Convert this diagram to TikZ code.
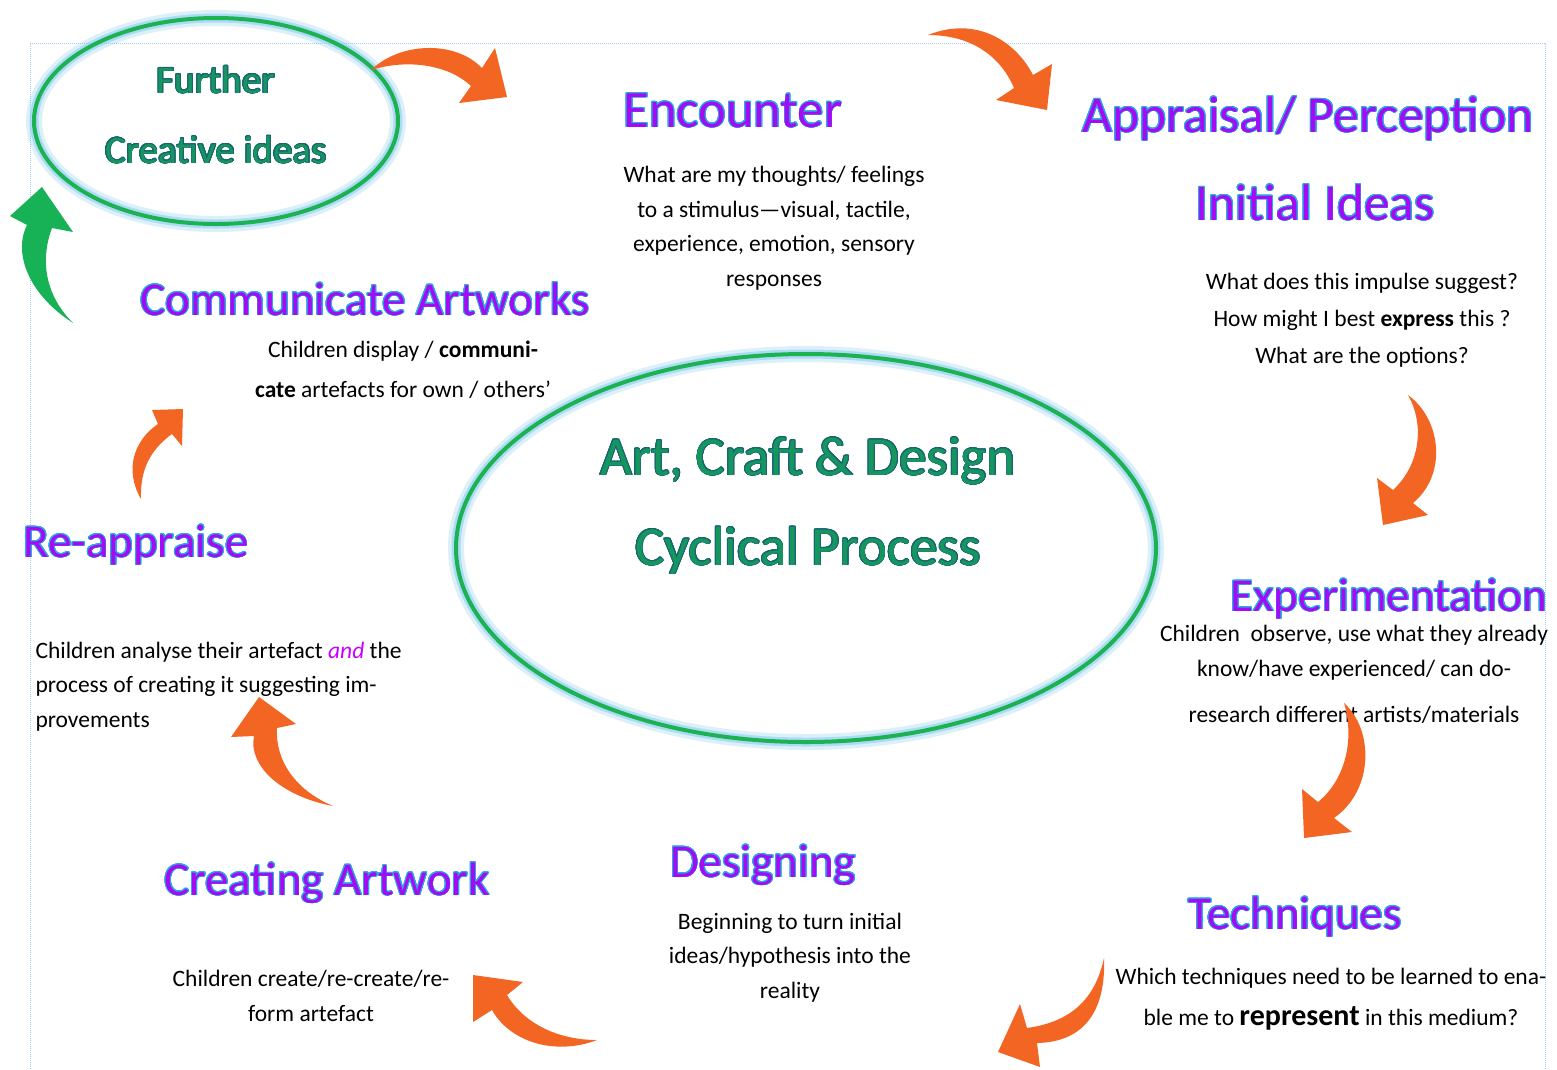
\documentclass[tikz,border=0pt]{standalone}
\usepackage{fontspec}
\setmainfont{Carlito}
\usepackage[copies]{contour}
\usetikzlibrary{shapes.geometric}
\contourlength{0.9pt}
\contournumber{20}
\definecolor{arroworange}{RGB}{243,101,35}
\definecolor{arrowgreen}{RGB}{24,178,86}
\definecolor{ringgreen}{RGB}{28,178,82}
\definecolor{glowblue}{RGB}{140,205,240}
\definecolor{headfill}{RGB}{165,10,245}
\definecolor{headline}{RGB}{40,170,225}
\definecolor{titlefill}{RGB}{22,150,95}
\definecolor{titleline}{RGB}{25,100,115}
\definecolor{frameblue}{RGB}{165,205,245}
\definecolor{andpink}{RGB}{200,0,255}
\newcommand{\headtxt}[1]{\contour{headline}{\textcolor{headfill}{#1}}}
\newcommand{\titletxt}[1]{{\contourlength{0.8pt}\contour{titleline}{\textcolor{titlefill}{#1}}}}
\tikzset{
  ring/.style={ellipse, draw=ringgreen, line width=4pt, inner sep=0pt,
    preaction={draw=glowblue, line width=16pt, opacity=0.3},
    preaction={draw=glowblue, line width=9pt, opacity=0.6}},
  head/.style={font=\fontsize{47}{56}\selectfont, anchor=base},
  bighead/.style={head, font=\fontsize{51.5}{60}\selectfont},
  title/.style={align=center, anchor=base},
  body/.style={font=\fontsize{23.5}{34.5}\selectfont, align=center, anchor=base},
  bent/.style={fill=arroworange, draw=none},
  framebox/.style={draw=frameblue, densely dotted, line width=1pt}
}
\begin{document}
\begin{tikzpicture}[x=1pt,y=-1pt]
  \useasboundingbox (0,0) rectangle (1557,1069);
  \draw[framebox] (30,1069) -- (30,43) -- (1545,43) -- (1545,1069);

  \node[ring, minimum width=364pt, minimum height=206pt] (further) at (216,121) {};
  \node[title, font=\fontsize{39}{70}\selectfont] (furthertxt) at (216,163)
    {\titletxt{Further}\\\titletxt{Creative ideas}};

  \node[ring, minimum width=700pt, minimum height=388pt] (cycle) at (806,548) {};
  \node[title, font=\fontsize{55}{90}\selectfont] (cycletxt) at (808,565)
    {\titletxt{Art, Craft \& Design}\\\titletxt{Cyclical Process}};

  \node[bighead, font=\fontsize{52.5}{60}\selectfont] (encounter) at (733,127) {\headtxt{Encounter}};
  \node[body] (encountertxt) at (774,286) {What are my thoughts/ feelings\\to a stimulus—visual, tactile,\\experience, emotion, sensory\\responses};

  \node[bighead] (appraisal) at (1308,132) {\headtxt{Appraisal/ Perception}};
  \node[bighead] (initial) at (1315,220) {\headtxt{Initial Ideas}};
  \node[body, font=\fontsize{23.5}{37}\selectfont] (appraisaltxt) at (1362,363) {What does this impulse suggest?\\How might I best \textbf{express} this ?\\What are the options?};

  \node[head] (experiment) at (1389,611) {\headtxt{Experimentation}};
  \node[body] (experimenttxt) at (1354,722) {Children~ observe, use what they already\\know/have experienced/ can do-\\[11.5pt]research different artists/materials};

  \node[head] (techniques) at (1295,929) {\headtxt{Techniques}};
  \node[body, font=\fontsize{23.5}{41}\selectfont] (techniquestxt) at (1331,1025) {Which techniques need to be learned to ena-\\ble me to {\fontsize{30}{36}\selectfont\bfseries represent} in this medium?};

  \node[head] (designing) at (763,877) {\headtxt{Designing}};
  \node[body] (designingtxt) at (790,998) {Beginning to turn initial\\ideas/hypothesis into the\\reality};

  \node[head] (creating) at (327,895) {\headtxt{Creating Artwork}};
  \node[body] (creatingtxt) at (311,1021) {Children create/re-create/re-\\form artefact};

  \node[head] (reappraise) at (136,557) {\headtxt{Re-appraise}};
  \node[body, align=left, anchor=base west] (reappraisetxt) at (32,727) {Children analyse their artefact \textcolor{andpink}{\itshape and} the\\process of creating it suggesting im-\\provements};

  \node[head] (communicate) at (365,315) {\headtxt{Communicate Artworks}};
  \node[body, font=\fontsize{23.5}{40}\selectfont] (communicatetxt) at (403,397) {Children display / \textbf{communi-}\\\textbf{cate} artefacts for own / others’};

  % bent arrows round the cycle
  \fill[bent] (371,70) .. controls (400,42) and (455,40) .. (482,68) -- (495,48) -- (507,97)
    -- (459,103) -- (471,86) .. controls (450,66) and (410,58) .. cycle;
  \fill[bent] (928,35) .. controls (975,16) and (1015,40) .. (1033,75) -- (1052,64) -- (1047,110)
    -- (996,100) -- (1014,88) .. controls (1000,55) and (970,35) .. cycle;
  \fill[bent] (1408,395) .. controls (1442,420) and (1447,475) .. (1413,503) -- (1428,515) -- (1383,525)
    -- (1377,478) -- (1393,490) .. controls (1420,465) and (1425,425) .. cycle;
  \fill[bent] (1344,703) .. controls (1374,730) and (1374,790) .. (1334,818) -- (1352,832) -- (1304,838)
    -- (1302,789) -- (1318,802) .. controls (1345,780) and (1355,740) .. cycle;
  \fill[bent] (1104,958) .. controls (1106,1010) and (1085,1042) .. (1037,1043) -- (1040,1067) -- (998,1052)
    -- (1020,1004) -- (1027,1028) .. controls (1070,1022) and (1095,1000) .. cycle;
  \fill[bent] (597,1040) .. controls (555,1056) and (510,1042) .. (492,1010) -- (473,1022) -- (473,975)
    -- (523,982) -- (507,995) .. controls (525,1025) and (560,1040) .. cycle;
  \fill[bent] (333,806) .. controls (280,796) and (248,765) .. (254,736) -- (231,737) -- (259,697)
    -- (296,724) -- (277,728) .. controls (275,760) and (295,790) .. cycle;
  \fill[bent] (141,499) .. controls (124,470) and (134,440) .. (158,424) -- (152,410) -- (183,409)
    -- (182,446) -- (172,434) .. controls (150,450) and (140,470) .. cycle;
  \fill[arrowgreen] (73,323) .. controls (25,292) and (14,250) .. (27,225) -- (10,216) -- (42,187)
    -- (73,232) -- (52,228) .. controls (40,260) and (45,295) .. cycle;
\end{tikzpicture}
\end{document}
